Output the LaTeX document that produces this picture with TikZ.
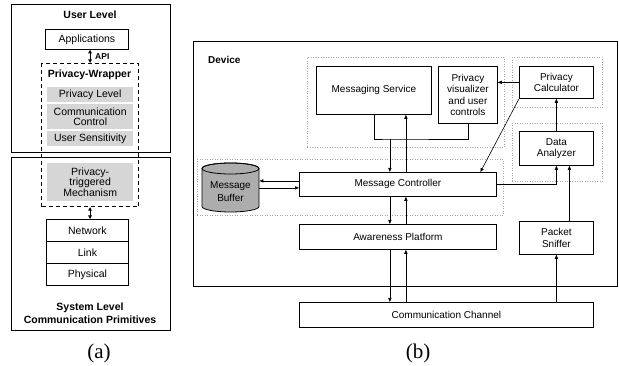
\documentclass[tikz,border=0pt]{standalone}
\usepackage{fontspec}
\setmainfont{Liberation Sans}
\newfontfamily\capfont{Liberation Serif}
\usetikzlibrary{arrows.meta,calc}

\tikzset{
  frame/.style={draw, line width=1.1pt, inner sep=0pt},
  blk/.style={draw, line width=0.8pt, inner sep=0pt, align=center, font=\fontsize{10}{11.5}\selectfont},
  lblk/.style={blk, font=\fontsize{10.5}{12}\selectfont},
  shade/.style={fill=black!16, inner sep=0pt, align=center, font=\fontsize{10.5}{11.5}\selectfont},
  group/.style={draw=black!35, dotted, line width=0.5pt, inner sep=0pt},
  title/.style={font=\bfseries\fontsize{10}{12}\selectfont, align=center, inner sep=0pt},
  ltitle/.style={title, font=\bfseries\fontsize{10.5}{12.5}\selectfont},
  arr/.style={line width=0.6pt, -{Triangle[length=4pt,width=3.2pt]}},
  line/.style={line width=0.6pt},
  dbl/.style={line width=1.1pt, {Triangle[length=3.5pt,width=3.5pt]}-{Triangle[length=3.5pt,width=3.5pt]}},
  caption/.style={font=\capfont\fontsize{21}{24}\selectfont, inner sep=0pt}
}

\begin{document}
\begin{tikzpicture}[x=1pt,y=-1pt]
\useasboundingbox (0,0) rectangle (619,366);

% ---------- (a) layered view ----------
\node[frame, anchor=north west, minimum width=159, minimum height=148] (user) at (11,4) {};
\node[frame, anchor=north west, minimum width=159, minimum height=173] (sys) at (11,157) {};
\node[ltitle] (userlbl) at (90,15) {User Level};
\node[ltitle] (syslbl) at (90,313) {System Level\\Communication Primitives};

\node[lblk, anchor=north west, minimum width=83, minimum height=20] (apps) at (45,29) {Applications};

\node[draw, dashed, line width=1.1pt, dash pattern=on 4pt off 3pt, anchor=north west, minimum width=97, minimum height=143, inner sep=0pt] (wrap) at (41,63) {};
\node[ltitle] (wraplbl) at (89.5,75) {Privacy-Wrapper};
\node[shade, anchor=north west, minimum width=86, minimum height=15] (plevel) at (47,87) {Privacy Level};
\node[shade, anchor=north west, minimum width=86, minimum height=25] (cctrl) at (47,104) {Communication\\[-1pt]Control};
\node[shade, anchor=north west, minimum width=86, minimum height=15] (usens) at (47,131) {User Sensitivity};
\node[shade, anchor=north west, minimum width=86, minimum height=38] (ptm) at (47,163) {Privacy-\\[-1pt]triggered\\[-1pt]Mechanism};

\node[lblk, anchor=north west, minimum width=82, minimum height=22] (net) at (46,219) {Network};
\node[lblk, anchor=north west, minimum width=82, minimum height=22] (link) at (46,241) {Link};
\node[lblk, anchor=north west, minimum width=82, minimum height=22] (phys) at (46,263) {Physical};

\draw[dbl] (wrap.north |- apps.south) -- (wrap.north);
\node[title, font=\bfseries\fontsize{8.5}{10}\selectfont, anchor=west] (api) at (95,57) {API};
\draw[dbl] (wrap.south) -- (wrap.south |- net.north);

% ---------- (b) device architecture ----------
\node[frame, line width=1.3pt, anchor=north west, minimum width=424, minimum height=245] (dev) at (193,41) {};
\node[title, anchor=west] (devlbl) at (208,60) {Device};

\node[group, anchor=north west, minimum width=197, minimum height=90] (g1) at (307,57) {};
\node[group, anchor=north west, minimum width=306, minimum height=56] (g2) at (197,159) {};
\node[group, anchor=north west, minimum width=90, minimum height=50] (g3) at (512,57) {};
\node[group, anchor=north west, minimum width=90, minimum height=58] (g4) at (512,123) {};

\node[blk, anchor=north west, minimum width=115, minimum height=48] (ms) at (316,66) {Messaging Service};
\node[blk, anchor=north west, minimum width=59, minimum height=57] (pv) at (438,66) {Privacy\\visualizer\\and user\\controls};
\node[blk, anchor=north west, minimum width=74, minimum height=32] (pc) at (519,66) {Privacy\\Calculator};
\node[blk, anchor=north west, minimum width=74, minimum height=34] (da) at (519,131) {Data\\Analyzer};
\node[blk, anchor=north west, minimum width=197, minimum height=24] (mc) at (299,172) {Message Controller};
\node[blk, anchor=north west, minimum width=197, minimum height=25] (ap) at (299,224) {Awareness Platform};
\node[blk, anchor=north west, minimum width=74, minimum height=33] (ps) at (519,221) {Packet\\Sniffer};
\node[blk, anchor=north west, minimum width=294, minimum height=25] (cc) at (299,302) {Communication Channel};

% message buffer drawn as a cylinder
\node[inner sep=0pt, anchor=north west, minimum width=57, minimum height=49] (mb) at (202,163) {};
\filldraw[fill=black!32, line width=0.8pt]
  (202,168.5) -- (202,206.5)
  arc[start angle=180, end angle=360, x radius=28.5pt, y radius=5.5pt]
  -- (259,168.5)
  arc[start angle=0, end angle=180, x radius=28.5pt, y radius=5.5pt] -- cycle;
\draw[line width=0.8pt] (230.5,168.5) ellipse [x radius=28.5pt, y radius=5.5pt];
\node[align=center, inner sep=0pt, font=\fontsize{10}{12.5}\selectfont] (mblbl) at (230.5,191.5) {Message\\Buffer};

% connectors
\coordinate (mrg) at ([xshift=-8pt]mc.north |- 0,139);
\draw[line] (ms.south) |- (mrg) -| (pv.south);
\draw[arr] (mrg) -- ([xshift=-8pt]mc.north);
\draw[arr] ([xshift=8pt]mc.north) -- ([xshift=8pt]mc.north |- ms.south);
\draw[arr] (pc.west) -- (pc.west -| pv.east);
\draw[arr] (pc.south west) -- ([xshift=82.5pt]mc.north);
\draw[arr] (mc.east) -| (da.south);
\draw[arr] (da.north) -- (pc.south);
\draw[arr] ([xshift=13pt]ps.north) -- ([xshift=13pt]da.south);
\draw[arr] (cc.north -| ps.south) -- (ps.south);
\draw[arr] ([yshift=3.5pt]mc.west) -- ([yshift=3.5pt]mc.west -| mb.east);
\draw[arr] ([yshift=-3.5pt]mc.west -| mb.east) -- ([yshift=-3.5pt]mc.west);
\draw[arr] ([xshift=-8pt]mc.south) -- ([xshift=-8pt]ap.north);
\draw[arr] ([xshift=8pt]ap.north) -- ([xshift=8pt]mc.south);
\draw[arr] ([xshift=-8pt]ap.south) -- ([xshift=-8pt]ap.south |- cc.north);
\draw[arr] ([xshift=8pt]ap.south |- cc.north) -- ([xshift=8pt]ap.south);

% captions
\node[caption] (capa) at (99,353) {(a)};
\node[caption] (capb) at (418,353) {(b)};
\end{tikzpicture}
\end{document}
